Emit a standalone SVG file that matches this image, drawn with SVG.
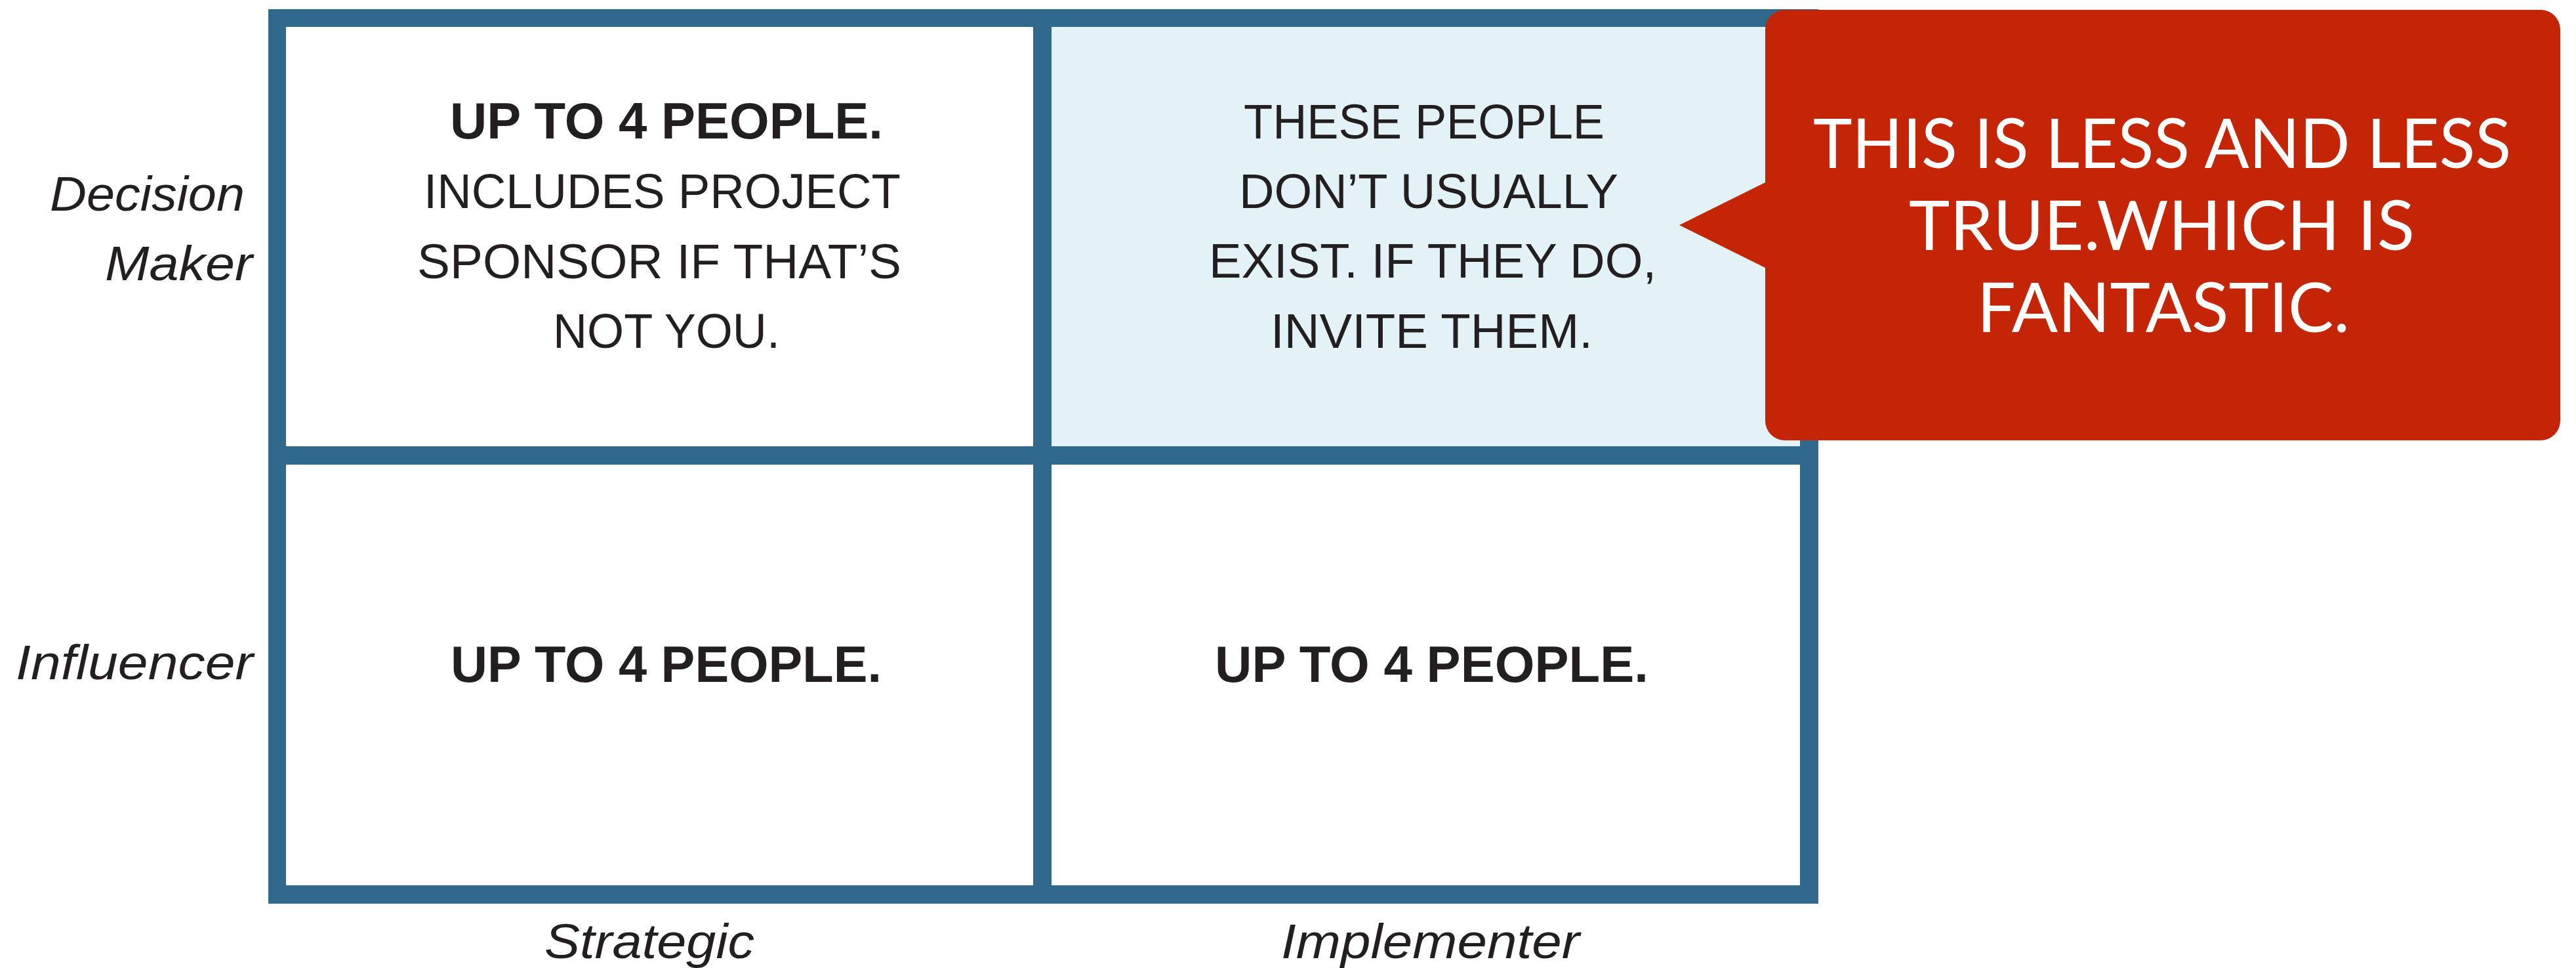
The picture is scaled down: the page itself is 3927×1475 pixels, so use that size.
<svg xmlns="http://www.w3.org/2000/svg" width="3927" height="1475" viewBox="0 0 3927 1475">
  <style>
    .frame { fill: #2f6a8d; }
    .cell { fill: #ffffff; }
    .cell-hi { fill: #e2f2f6; }
    .body { font-family: "Liberation Sans", Arial, sans-serif; font-size: 74px; fill: #231f20; }
    .bold { font-weight: bold; font-size: 77px; }
    .axis { font-family: "Liberation Sans", Arial, sans-serif; font-style: italic; font-size: 75px; fill: #231f20; }
    .callout { fill: #c52507; }
    .callout-text { font-family: "Lato", "Liberation Sans", sans-serif; font-weight: 400; font-size: 105px; fill: #ffffff; }
  </style>

  <rect width="3927" height="1475" fill="#ffffff"/>

  <!-- 2x2 grid: blue frame with cells laid over it -->
  <g id="grid">
    <rect class="frame" x="409" y="14" width="2363" height="1363"/>
  </g>

  <g id="cell-strategic-decision">
    <rect class="cell" x="436" y="41" width="1139" height="639"/>
    <text class="body bold" x="686" y="211" textLength="660" lengthAdjust="spacingAndGlyphs">UP TO 4 PEOPLE.</text>
    <text class="body" x="646" y="317" textLength="727" lengthAdjust="spacingAndGlyphs">INCLUDES PROJECT</text>
    <text class="body" x="636" y="424" textLength="738" lengthAdjust="spacingAndGlyphs">SPONSOR IF THAT’S</text>
    <text class="body" x="843" y="530" textLength="346" lengthAdjust="spacingAndGlyphs">NOT YOU.</text>
  </g>

  <g id="cell-implementer-decision">
    <rect class="cell-hi" x="1603" y="41" width="1141" height="639"/>
    <text class="body" x="1896" y="211" textLength="550" lengthAdjust="spacingAndGlyphs">THESE PEOPLE</text>
    <text class="body" x="1889" y="317" textLength="578" lengthAdjust="spacingAndGlyphs">DON’T USUALLY</text>
    <text class="body" x="1843" y="423" textLength="682" lengthAdjust="spacingAndGlyphs">EXIST. IF THEY DO,</text>
    <text class="body" x="1937" y="530" textLength="491" lengthAdjust="spacingAndGlyphs">INVITE THEM.</text>
  </g>

  <g id="cell-strategic-influencer">
    <rect class="cell" x="436" y="708" width="1139" height="641"/>
    <text class="body bold" x="687" y="1039" textLength="657" lengthAdjust="spacingAndGlyphs">UP TO 4 PEOPLE.</text>
  </g>

  <g id="cell-implementer-influencer">
    <rect class="cell" x="1603" y="708" width="1141" height="641"/>
    <text class="body bold" x="1852" y="1039" textLength="661" lengthAdjust="spacingAndGlyphs">UP TO 4 PEOPLE.</text>
  </g>

  <!-- axis labels -->
  <g id="label-decision-maker">
    <text class="axis" x="76" y="321" textLength="297" lengthAdjust="spacingAndGlyphs">Decision</text>
    <text class="axis" x="160" y="427" textLength="225" lengthAdjust="spacingAndGlyphs">Maker</text>
  </g>
  <g id="label-influencer">
    <text class="axis" x="24" y="1035" textLength="362" lengthAdjust="spacingAndGlyphs">Influencer</text>
  </g>
  <g id="label-strategic">
    <text class="axis" x="830" y="1460" textLength="320" lengthAdjust="spacingAndGlyphs">Strategic</text>
  </g>
  <g id="label-implementer">
    <text class="axis" x="1953" y="1460" textLength="455" lengthAdjust="spacingAndGlyphs">Implementer</text>
  </g>

  <!-- speech-bubble callout pointing at the top-right cell -->
  <g id="callout">
    <path class="callout" d="M 2721 15 H 3873 A 30 30 0 0 1 3903 45 V 641 A 30 30 0 0 1 3873 671 H 2721 A 30 30 0 0 1 2691 641 V 408 L 2560 343 L 2691 278 V 45 A 30 30 0 0 1 2721 15 Z"/>
    <text class="callout-text" x="2764" y="256" textLength="1064" lengthAdjust="spacingAndGlyphs">THIS IS LESS AND LESS</text>
    <text class="callout-text" x="2910" y="381" textLength="771" lengthAdjust="spacingAndGlyphs">TRUE.WHICH IS</text>
    <text class="callout-text" x="3014" y="506" textLength="568" lengthAdjust="spacingAndGlyphs">FANTASTIC.</text>
  </g>
</svg>
